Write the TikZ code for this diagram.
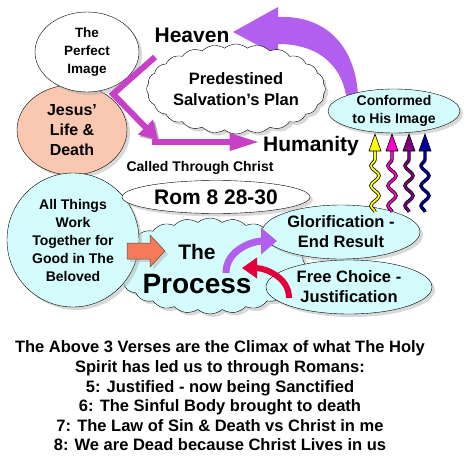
\documentclass[tikz,border=0pt]{standalone}
\usepackage{fontspec}
\setmainfont{Liberation Sans}
\usetikzlibrary{positioning,shapes.geometric,shapes.symbols,shadows,arrows.meta,decorations.pathmorphing}

\definecolor{paleaqua}{RGB}{212,252,252}
\definecolor{peach}{RGB}{250,200,176}
\definecolor{lilac}{RGB}{178,95,240}
\definecolor{orchid}{RGB}{200,64,200}
\definecolor{coral}{RGB}{245,122,90}
\definecolor{crimson}{RGB}{225,0,60}
\definecolor{wyellow}{RGB}{255,255,0}
\definecolor{wmagenta}{RGB}{255,0,204}
\definecolor{wpurple}{RGB}{128,0,128}
\definecolor{wnavy}{RGB}{0,0,160}

\newcommand{\setfs}[2]{\fontsize{#1}{#2}\selectfont}

\begin{document}
\begin{tikzpicture}[x=1pt, y=-1pt,
    castshadow/.style={drop shadow={shadow xshift=3pt, shadow yshift=-3pt, fill=gray!60}},
    bubble/.style={draw, ellipse, castshadow, inner sep=0pt, align=center},
    puff/.style={draw, cloud, cloud puffs=24, cloud puff arc=80, cloud ignores aspect, castshadow, inner sep=0pt, align=center},
    pinkline/.style={draw=orchid, line width=6pt, preaction={draw=gray!60, transform canvas={xshift=2pt, yshift=-2pt}}},
    wave/.style={decorate, decoration={snake, amplitude=4pt, segment length=20pt}}]
    \path[use as bounding box, fill=white] (0,0) rectangle (471,472);

    % Big arrow up to Heaven
    \fill[lilac] (233,32) -- (278,7) -- (278,17) .. controls (325,15) and (355,45) .. (358,95)
        -- (346,95) .. controls (340,62) and (315,44) .. (278,44) -- (278,56) -- cycle;

    % Left column
    \node[bubble, fill=peach, minimum width=110pt, minimum height=90pt, font=\bfseries\setfs{16}{20}] (jesus) at (72,130) {Jesus'\\Life \&\\Death};
    \node[bubble, fill=white, minimum width=104pt, minimum height=80pt, font=\bfseries\setfs{13.5}{18}] (perfect) at (87,52) {The\\Perfect\\Image};

    % Clouds
    \node[puff, fill=white, minimum width=178pt, minimum height=90pt, font=\bfseries\setfs{16.5}{21}] (plan) at (236,89) {Predestined\\Salvation's Plan};
    \node[puff, fill=paleaqua, minimum width=190pt, minimum height=96pt] (process) at (210,266) {};
    \node[bubble, fill=paleaqua, minimum width=132pt, minimum height=134pt, font=\bfseries\setfs{14}{18}] (allthings) at (73,240) {All Things\\Work\\Together for\\Good in The\\Beloved};
    \node[inner sep=0pt, font=\bfseries\setfs{21}{22}] (procthe) at (197,252) {The};
    \node[inner sep=0pt, font=\bfseries\setfs{28}{29}] (procword) at (197,284) {Process};

    % Ellipses
    \node[bubble, fill=white, minimum width=188pt, minimum height=33pt, font=\bfseries\setfs{21}{24}] (rom) at (216,197) {Rom 8 28-30};
    \node[bubble, fill=paleaqua, minimum width=158pt, minimum height=54pt, font=\bfseries\setfs{16.5}{20}] (glory) at (341,232) {Glorification -\\End Result};
    \node[bubble, fill=paleaqua, minimum width=166pt, minimum height=54pt, font=\bfseries\setfs{16.5}{20}] (choice) at (349,287) {Free Choice -\\Justification};
    \node[bubble, fill=paleaqua, minimum width=132pt, minimum height=44pt, font=\bfseries\setfs{14}{18}] (conf) at (394,111) {Conformed\\to His Image};

    % Words
    \node[font=\bfseries\setfs{21}{24}] (heaven) at (192,35) {Heaven};
    \node[font=\bfseries\setfs{21}{24}] (humanity) at (311,146) {Humanity};
    \node[font=\bfseries\setfs{14}{16}] (called) at (200,168) {Called Through Christ};

    % Pink arrows
    \coordinate (m1) at (155,57);
    \coordinate (m2) at (113,94);
    \coordinate (m3) at (158,140);
    \coordinate (m4) at (152,142);
    \draw[pinkline, -{Triangle[length=18pt, width=20pt]}] (m1) -- (m2) -- (m3);
    \draw[pinkline, -{Triangle[length=30pt, width=16pt]}] (m4) -- (m4 -| humanity.west);

    % Wavy arrows
    \foreach \x/\c in {375/wyellow, 392/wmagenta, 409/wpurple, 425/wnavy} {
        \draw[wave, draw=black, line width=0.8pt, double=\c, double distance=1.8pt] (\x,212) -- (\x,151);
        \filldraw[fill=\c, draw=black, line width=0.6pt] (\x-6,151) -- (\x+6,151) -- (\x,134) -- cycle;
    }

    % Process arrows
    \filldraw[fill=coral, draw=black!70, line width=0.5pt, castshadow] (127,243) -- (150,243) -- (150,235) -- (165,251)
        -- (150,267) -- (150,259) -- (127,259) -- cycle;
    \draw[lilac, line width=7pt, -{Triangle[length=16pt, width=26pt]}] (226,273) to[out=90, in=180] (277,241);
    \draw[crimson, line width=6pt, -{Triangle[length=15pt, width=20pt]}] (289,298) to[out=90, in=0] (242,268);

    % Verses
    \node[align=center, font=\bfseries\setfs{16.5}{19.6}] (verses) at (220,396) {The Above 3 Verses are the Climax of what The Holy\\Spirit has led us to through Romans:\\5: Justified - now being Sanctified\\6: The Sinful Body brought to death\\7: The Law of Sin \& Death vs Christ in me\\8: We are Dead because Christ Lives in us};
\end{tikzpicture}
\end{document}
